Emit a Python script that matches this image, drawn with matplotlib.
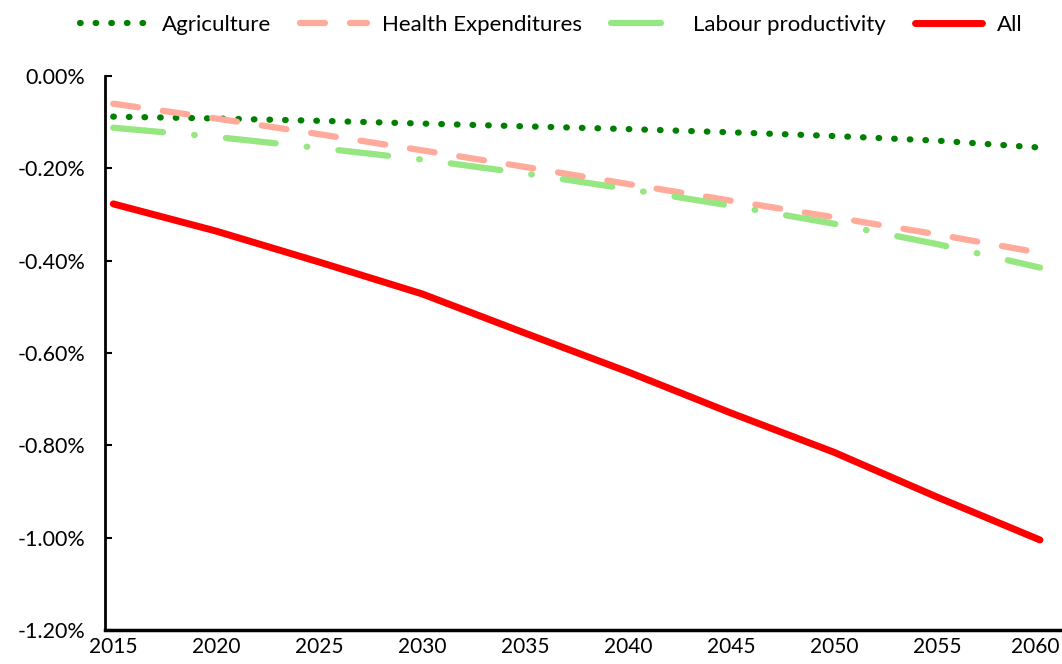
import matplotlib
matplotlib.use("Agg")
import matplotlib.pyplot as plt
from matplotlib.ticker import FuncFormatter
from matplotlib.transforms import ScaledTranslation

plt.rcParams['font.family'] = ['Lato', 'DejaVu Sans']

years = [2015, 2020, 2025, 2030, 2035, 2040, 2045, 2050, 2055, 2060]
agriculture = [-0.088, -0.092, -0.097, -0.103, -0.109, -0.115, -0.122, -0.130, -0.140, -0.155]
health = [-0.060, -0.092, -0.126, -0.161, -0.197, -0.234, -0.270, -0.306, -0.343, -0.383]
labour = [-0.112, -0.132, -0.156, -0.181, -0.211, -0.245, -0.281, -0.320, -0.364, -0.415]
all_effects = [-0.277, -0.336, -0.403, -0.472, -0.557, -0.641, -0.730, -0.815, -0.912, -1.005]

fig = plt.figure(figsize=(10.62, 6.64), dpi=100)
ax = fig.add_axes([105 / 1062, 34 / 664, 1 - 105 / 1062, (630 - 76) / 664])

ax.plot(years, agriculture, color="#008000", lw=4.5, linestyle=(0, (0.1, 2.4)),
        dash_capstyle="round", label="Agriculture")
ax.plot(years, health, color="#ffaa9a", lw=4.5, linestyle=(0, (4, 4)),
        dash_capstyle="round", label="Health Expenditures")
ax.plot(years, labour, color="#96e682", lw=4.5, linestyle=(0, (8, 5, 0.1, 5)),
        dash_capstyle="round", label="Labour productivity")
ax.plot(years, all_effects, color="#ff0000", lw=5, solid_capstyle="round", label="All")

ax.set_xlim(2014.6, 2061.07)
ax.set_ylim(-1.2, 0.0)
ax.set_xticks(years)
ax.set_yticks([0, -0.2, -0.4, -0.6, -0.8, -1.0, -1.2])
ax.yaxis.set_major_formatter(FuncFormatter(lambda v, p: f"{v:.2f}%"))
ax.tick_params(axis="y", labelsize=15.5, length=5, width=1.5, direction="in", pad=14)
ax.tick_params(axis="x", labelsize=15, length=0, pad=5)
for s in ["top", "right"]:
    ax.spines[s].set_visible(False)
ax.spines["left"].set_linewidth(2)
ax.spines["bottom"].set_linewidth(2.5)

# nudge the last year label so it stays inside the canvas
last = ax.xaxis.get_major_ticks()[-1].label1
last.set_transform(last.get_transform() + ScaledTranslation(-5 / 100, 0, fig.dpi_scale_trans))

leg = fig.legend(loc="upper right", bbox_to_anchor=(0.982, 1.008), ncol=4, frameon=False,
                 fontsize=16, handlelength=3.0, columnspacing=1.3, handletextpad=0.7)

fig.savefig("out.png", dpi=100)
